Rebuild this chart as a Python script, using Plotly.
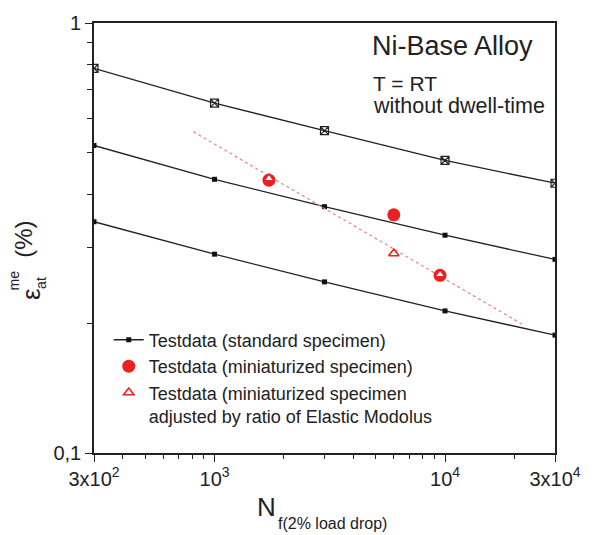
import plotly.graph_objects as go

# ---------------- data ----------------
cycles_std = [300, 1000, 3000, 10000, 30000]
strain_upper = [0.784, 0.651, 0.562, 0.479, 0.424]
strain_middle = [0.519, 0.433, 0.374, 0.321, 0.282]
strain_lower = [0.345, 0.290, 0.250, 0.214, 0.188]

cycles_mini = [1722, 5995, 9510]
strain_mini = [0.431, 0.358, 0.259]
strain_mini_adj = [0.435, 0.291, 0.260]

fit_cycles = [809, 21700]
fit_strain = [0.559, 0.199]

x_tickvals = [300, 1000, 10000, 30000]
x_ticktext = ["3x10<sup>2</sup>", "10<sup>3</sup>", "10<sup>4</sup>", "3x10<sup>4</sup>"]
x_minor = [400, 500, 600, 700, 800, 900, 2000, 3000, 4000, 5000, 6000, 7000, 8000, 9000, 20000]
y_tickvals = [0.1, 1]
y_ticktext = ["0,1", "1"]
y_minor = [0.2, 0.3, 0.4, 0.5, 0.6, 0.7, 0.8, 0.9]

FONT = "Liberation Sans, Arial, sans-serif"
RED = "#e8231f"

W, H = 593, 535
L, R, T, B = 94, 30, 18, 82
PW, PH = W - L - R, H - T - B


def px(x):
    return (x - L) / PW


def py(y):
    return (H - B - y) / PH


fig = go.Figure()

fig.add_trace(go.Scatter(
    x=cycles_std, y=strain_upper, mode="lines+markers",
    line=dict(color="#222", width=1.3),
    marker=dict(symbol="square-x-open", size=8, color="#222", line=dict(width=1.2)),
    showlegend=False))
fig.add_trace(go.Scatter(
    x=cycles_std, y=strain_middle, mode="lines+markers",
    line=dict(color="#222", width=1.3),
    marker=dict(symbol="square", size=5, color="#111"),
    name="Testdata (standard specimen)", showlegend=True))
fig.add_trace(go.Scatter(
    x=cycles_std, y=strain_lower, mode="lines+markers",
    line=dict(color="#222", width=1.3),
    marker=dict(symbol="square", size=5, color="#111"),
    showlegend=False))
fig.add_trace(go.Scatter(
    x=fit_cycles, y=fit_strain, mode="lines",
    line=dict(color="#f08080", width=1.2, dash="dot"),
    showlegend=False))
fig.add_trace(go.Scatter(
    x=cycles_mini, y=strain_mini, mode="markers",
    marker=dict(symbol="circle", size=13, color=RED, line=dict(width=0)),
    name="Testdata (miniaturized specimen)"))
fig.add_trace(go.Scatter(
    x=cycles_mini, y=strain_mini_adj, mode="markers",
    marker=dict(symbol="triangle-up", size=9, color="white", line=dict(color=RED, width=1.6)),
    name="Testdata (miniaturized specimen<br>adjusted by ratio of Elastic Modolus"))

fig.update_xaxes(
    type="log", range=[2.4771, 4.4771],
    tickmode="array", tickvals=x_tickvals, ticktext=x_ticktext,
    ticks="outside", ticklen=7, tickwidth=1.3, tickcolor="#222",
    minor=dict(tickmode="array", tickvals=x_minor, ticks="outside", ticklen=4, tickwidth=1.2, tickcolor="#222", showgrid=False),
    showline=True, linecolor="#222", linewidth=1.6, mirror=True,
    showgrid=False, zeroline=False,
    tickfont=dict(family=FONT, size=20, color="#222"))
fig.update_yaxes(
    type="log", range=[-1, 0],
    tickmode="array", tickvals=y_tickvals, ticktext=y_ticktext,
    ticks="outside", ticklen=7, tickwidth=1.3, tickcolor="#222",
    minor=dict(tickmode="array", tickvals=y_minor, ticks="outside", ticklen=5, tickwidth=1.2, tickcolor="#222", showgrid=False),
    showline=True, linecolor="#222", linewidth=1.6, mirror=True,
    showgrid=False, zeroline=False,
    tickfont=dict(family=FONT, size=20, color="#222"))

ann = []


def text(x, y, s, size, xanchor="center", yanchor="middle", angle=0):
    ann.append(dict(x=px(x), y=py(y), xref="paper", yref="paper", text=s, showarrow=False,
                    xanchor=xanchor, yanchor=yanchor, textangle=angle,
                    font=dict(family=FONT, size=size, color="#222")))


text(375, 41, "Ni-Base Alloy", 27, xanchor="left")
text(376, 79, "T = RT", 21, xanchor="left")
text(376, 102, "without dwell-time", 21.5, xanchor="left")

# axis titles
text(270, 508, "N", 26)
text(279, 524, "f(2% load drop)", 16, xanchor="left")
text(30, 292, "ε", 26, angle=-90)
text(13, 278, "me", 14, angle=-90)
text(40, 281, "at", 14, angle=-90)
text(22, 237, "(%)", 24, angle=-90)

fig.update_layout(
    width=W, height=H,
    margin=dict(l=L, r=R, t=T, b=B),
    paper_bgcolor="white", plot_bgcolor="white",
    annotations=ann,
    legend=dict(x=px(109), y=py(320), xanchor="left", yanchor="top",
                bgcolor="rgba(0,0,0,0)", font=dict(family=FONT, size=18, color="#222"),
                valign="top", tracegroupgap=0, itemwidth=30),
)

fig.write_html("out.html")
